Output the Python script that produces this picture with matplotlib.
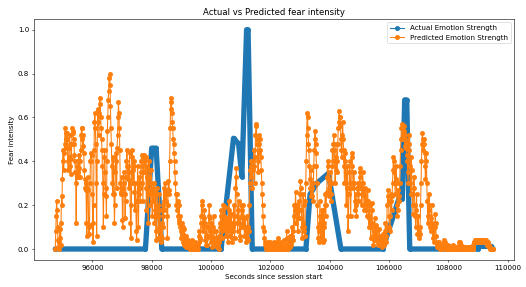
import numpy as np
import matplotlib
matplotlib.use('Agg')
import matplotlib.pyplot as plt

# Actual emotion strength (annotated keyframes, seconds since session start)
actual_time = [94750, 97790, 98000, 98150, 98340, 100340, 100760, 100930, 101040,
               101200, 101250, 101390, 103200, 103340, 103570, 103960, 104380,
               105790, 106360, 106450, 106530, 106600, 106700, 108990, 109010,
               109450, 109510]
actual_value = [0.0, 0.0, 0.46, 0.46, 0.0, 0.0, 0.505, 0.48, 0.33,
                1.0, 1.0, 0.0, 0.0, 0.25, 0.30, 0.345, 0.0,
                0.0, 0.24, 0.23, 0.68, 0.68, 0.0, 0.0, 0.012,
                0.012, 0.0]

# Predicted emotion strength, one sample every 15 s (values in %),
# each row covers 300 s
pred_start = 94750
pred_step = 15
pred_pct = [
    0, 8, 15, 22, 18, 10, 4, 1, 0, 3, 9, 5, 2, 12, 24, 20, 32, 45, 40, 36,
    44, 48, 55, 53, 50, 46, 53, 50, 40, 36, 42, 46, 52, 48, 38, 34, 41, 48, 55, 53,
    54, 50, 48, 43, 40, 35, 30, 12, 33, 38, 35, 33, 40, 43, 37, 33, 40, 45, 52, 55,
    55, 50, 47, 52, 44, 36, 32, 28, 27, 30, 12, 6, 28, 33, 27, 10, 7, 11, 30, 40,
    44, 40, 43, 25, 12, 3, 20, 45, 58, 62, 55, 48, 30, 6, 40, 63, 64, 58, 52, 62,
    69, 66, 60, 55, 50, 45, 38, 30, 10, 25, 42, 45, 35, 28, 24, 15, 40, 54, 60, 68,
    72, 78, 80, 75, 65, 55, 48, 38, 30, 25, 42, 36, 25, 12, 20, 35, 44, 40, 28, 46,
    52, 60, 67, 62, 55, 45, 30, 25, 26, 33, 28, 13, 10, 28, 35, 30, 25, 14, 22, 33,
    40, 45, 38, 32, 38, 28, 35, 44, 30, 12, 5, 20, 45, 42, 36, 30, 38, 40, 26, 18,
    30, 22, 8, 4, 22, 38, 30, 10, 25, 33, 28, 22, 35, 40, 43, 38, 30, 22, 35, 42,
    43, 40, 35, 42, 28, 18, 38, 33, 25, 12, 33, 40, 36, 27, 20, 30, 36, 25, 15, 28,
    22, 30, 26, 12, 18, 25, 8, 4, 18, 28, 20, 15, 5, 10, 25, 18, 8, 3, 6, 12,
    5, 15, 20, 10, 28, 22, 18, 30, 25, 22, 27, 15, 5, 20, 31, 25, 27, 40, 55, 64,
    69, 67, 62, 58, 55, 50, 48, 44, 40, 35, 30, 25, 20, 25, 18, 22, 15, 13, 20, 12,
    15, 10, 8, 5, 12, 7, 3, 7, 10, 2, 9, 5, 4, 1, 6, 3, 1, 2, 4, 1,
    3, 1, 0, 2, 1, 0, 2, 4, 1, 0, 0, 1, 2, 0, 1, 3, 2, 1, 0, 1,
    0, 2, 3, 6, 8, 4, 5, 12, 15, 22, 20, 15, 10, 8, 14, 18, 12, 4, 2, 6,
    10, 5, 2, 6, 10, 15, 20, 14, 8, 3, 6, 12, 5, 1, 3, 10, 15, 8, 4, 2,
    5, 2, 8, 4, 1, 4, 2, 0, 3, 6, 10, 12, 18, 15, 8, 5, 12, 20, 14, 9,
    15, 19, 14, 10, 6, 12, 14, 8, 3, 10, 22, 18, 12, 6, 8, 16, 12, 5, 3, 8,
    10, 20, 15, 5, 12, 28, 33, 37, 25, 15, 8, 18, 22, 14, 12, 6, 4, 10, 20, 15,
    18, 12, 10, 20, 14, 6, 10, 14, 8, 3, 9, 5, 15, 10, 4, 8, 20, 30, 36, 38,
    33, 40, 36, 28, 36, 40, 45, 38, 30, 42, 52, 56, 57, 50, 48, 40, 35, 44, 48, 52,
    50, 45, 42, 36, 30, 25, 20, 15, 10, 8, 5, 3, 2, 1, 0, 1, 2, 0, 1, 3,
    0, 1, 3, 1, 0, 2, 1, 0, 0, 2, 1, 0, 3, 1, 0, 1, 2, 0, 1, 3,
    5, 3, 1, 0, 2, 1, 0, 3, 1, 0, 2, 1, 0, 4, 2, 1, 0, 2, 1, 0,
    8, 5, 2, 0, 1, 4, 2, 1, 6, 3, 2, 5, 10, 6, 4, 8, 15, 20, 12, 18,
    26, 20, 12, 18, 20, 8, 14, 22, 18, 14, 25, 31, 28, 18, 10, 5, 12, 25, 20, 8,
    10, 6, 22, 30, 40, 52, 62, 60, 55, 48, 45, 38, 32, 28, 24, 36, 30, 24, 28, 22,
    30, 38, 45, 50, 54, 48, 44, 38, 30, 20, 10, 5, 3, 8, 15, 22, 12, 5, 10, 18,
    8, 3, 18, 10, 4, 12, 20, 25, 15, 20, 26, 33, 38, 40, 32, 28, 24, 35, 30, 25,
    22, 30, 38, 45, 40, 48, 52, 45, 40, 30, 36, 48, 42, 35, 40, 48, 55, 58, 63, 60,
    60, 56, 50, 45, 42, 52, 58, 50, 45, 38, 30, 44, 40, 30, 20, 28, 38, 25, 8, 15,
    25, 35, 40, 28, 15, 30, 44, 42, 38, 30, 28, 35, 30, 18, 22, 25, 20, 15, 22, 28,
    30, 25, 22, 28, 33, 37, 35, 30, 28, 20, 25, 35, 30, 26, 20, 18, 24, 28, 22, 18,
    15, 20, 27, 22, 15, 10, 14, 20, 12, 5, 10, 21, 18, 12, 6, 2, 4, 8, 14, 10,
    4, 8, 11, 9, 6, 3, 2, 5, 9, 6, 3, 4, 5, 2, 1, 3, 7, 5, 2, 4,
    5, 8, 12, 6, 3, 10, 20, 24, 27, 22, 15, 10, 8, 15, 22, 25, 18, 24, 30, 36,
    42, 40, 35, 30, 25, 32, 38, 30, 20, 15, 18, 27, 24, 22, 30, 38, 45, 50, 55, 57,
    55, 52, 50, 54, 56, 50, 47, 52, 49, 46, 43, 40, 35, 30, 45, 52, 48, 38, 30, 25,
    42, 36, 25, 20, 16, 25, 33, 28, 20, 15, 10, 18, 25, 15, 7, 10, 15, 8, 5, 7,
    10, 20, 30, 40, 48, 53, 50, 45, 48, 50, 44, 38, 32, 40, 44, 30, 22, 15, 12, 20,
    25, 18, 15, 10, 8, 14, 20, 12, 5, 8, 10, 6, 3, 10, 16, 12, 6, 3, 2, 1,
    1, 2, 3, 1, 0, 1, 2, 1, 0, 0, 1, 2, 1, 3, 4, 3, 2, 1, 0, 1,
    1, 0, 0, 2, 1, 0, 0, 1, 0, 0, 1, 0, 0, 2, 1, 0, 0, 1, 0, 1,
    0, 1, 0, 0, 1, 0, 0, 2, 3, 3, 2, 2, 1, 0, 0, 1, 0, 0, 0, 1,
    0, 1, 0, 0, 0, 0, 1, 0, 0, 0, 1, 0, 0, 1, 0, 0, 1, 0, 0, 1,
    2, 3, 3, 4, 3, 3, 4, 4, 3, 3, 4, 3, 3, 4, 4, 3, 3, 4, 3, 3,
    4, 3, 4, 4, 3, 3, 4, 3, 3, 4, 3, 2, 2, 3, 2, 1, 1, 0, 1, 0,
    0, 0, 0, 0, 0,
]

pred_time = pred_start + pred_step * np.arange(len(pred_pct))
pred_value = np.array(pred_pct) / 100.0

# Figure drawn at reduced dpi so default styling scales like the original
dpi = 51
fig = plt.figure(figsize=(526.3 / dpi, 287.3 / dpi), dpi=dpi)
ax = fig.add_axes([34 / 526, 1 - 260 / 287, 480 / 526, 241 / 287])

# Dense actual samples render as a thick band of markers
ax.plot(actual_time, actual_value, color='#1f77b4', linewidth=7.5,
        solid_capstyle='round', solid_joinstyle='round')
ax.plot(actual_time, actual_value, color='#1f77b4', marker='o',
        label='Actual Emotion Strength')
ax.plot(pred_time, pred_value, color='#ff7f0e', marker='o',
        label='Predicted Emotion Strength')

ax.set_xlim(94033, 110226)
ax.set_ylim(-0.05, 1.05)
ax.set_xlabel('Seconds since session start')
ax.set_ylabel('Fear intensity')
ax.set_title('Actual vs Predicted fear intensity')
ax.legend(loc='upper right')

fig.savefig('out.png', dpi=dpi)
